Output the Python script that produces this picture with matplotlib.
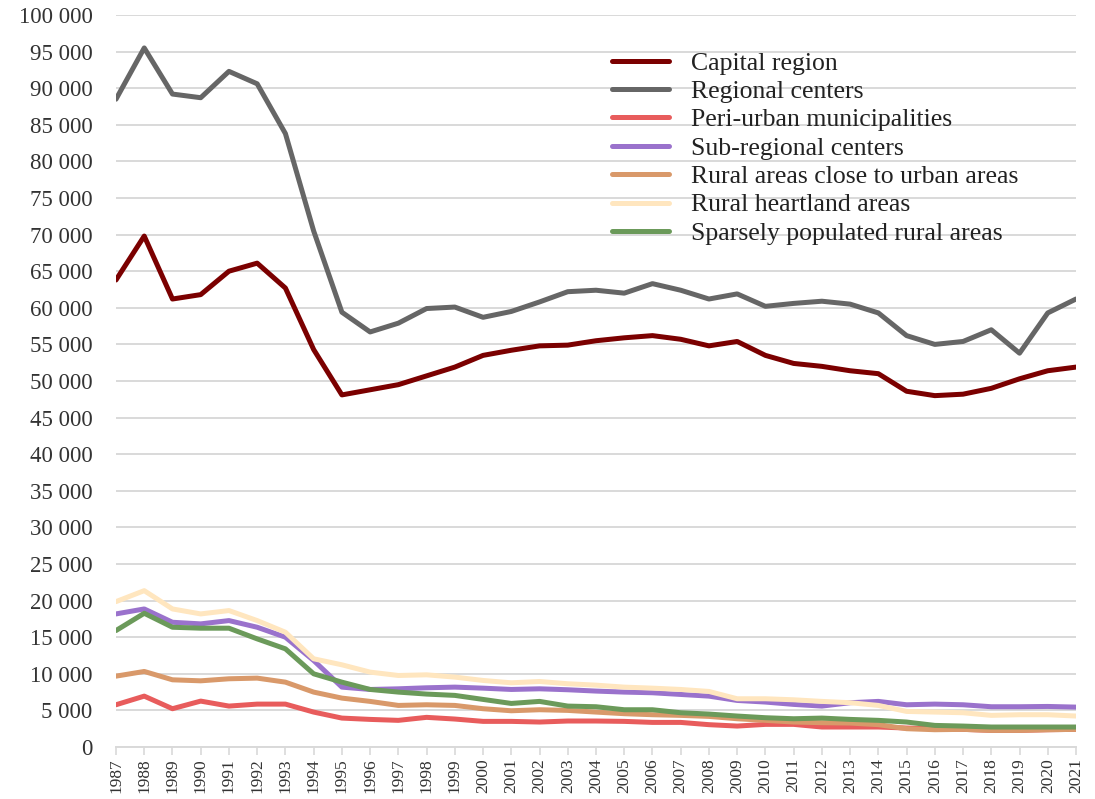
import numpy as np
from matplotlib import pyplot as plt
from matplotlib.ticker import FuncFormatter

years = list(range(1987, 2022))

capital = [63800, 69800, 61200, 61800, 65000, 66100, 62700, 54300, 48100, 48800,
           49500, 50700, 51900, 53500, 54200, 54800, 54900, 55500, 55900, 56200,
           55700, 54800, 55400, 53500, 52400, 52000, 51400, 51000, 48600, 48000,
           48200, 49000, 50300, 51400, 51900]
regional = [88500, 95500, 89200, 88700, 92300, 90600, 83800, 70500, 59400, 56700,
            57900, 59900, 60100, 58700, 59500, 60800, 62200, 62400, 62000, 63300,
            62400, 61200, 61900, 60200, 60600, 60900, 60500, 59300, 56200, 55000,
            55400, 57000, 53800, 59300, 61200]
peri_urban = [5770, 6950, 5230, 6270, 5590, 5860, 5860, 4770, 3950, 3770,
              3640, 4050, 3820, 3500, 3500, 3410, 3550, 3550, 3500, 3360,
              3360, 3050, 2860, 3090, 3090, 2730, 2730, 2730, 2590, 2500,
              2410, 2270, 2270, 2360, 2410]
sub_regional = [18180, 18860, 17040, 16820, 17270, 16360, 15000, 11820, 8180, 7860,
                7950, 8090, 8180, 8040, 7860, 7950, 7820, 7640, 7500, 7410,
                7180, 6950, 6360, 6140, 5820, 5590, 6050, 6230, 5770, 5860,
                5770, 5500, 5500, 5540, 5450]
rural_close = [9680, 10320, 9180, 9040, 9320, 9410, 8860, 7500, 6680, 6230,
               5680, 5770, 5680, 5230, 4950, 5090, 5000, 4770, 4550, 4410,
               4320, 4180, 3860, 3640, 3410, 3320, 3270, 3050, 2500, 2360,
               2410, 2270, 2270, 2360, 2410]
heartland = [19860, 21360, 18860, 18180, 18640, 17270, 15680, 12050, 11230, 10230,
             9770, 9860, 9550, 9090, 8770, 8950, 8640, 8450, 8180, 8040,
             7860, 7590, 6590, 6590, 6450, 6230, 6050, 5680, 4860, 4770,
             4680, 4320, 4410, 4410, 4230]
sparse = [15910, 18270, 16360, 16230, 16230, 14770, 13410, 10000, 8860, 7860,
          7500, 7230, 7050, 6500, 5950, 6230, 5590, 5500, 5090, 5090,
          4680, 4500, 4230, 4000, 3860, 3950, 3770, 3640, 3410, 2950,
          2860, 2730, 2730, 2730, 2730]

series = [
    ('Capital region', capital, '#7b0000'),
    ('Regional centers', regional, '#666666'),
    ('Peri-urban municipalities', peri_urban, '#e85c5c'),
    ('Sub-regional centers', sub_regional, '#9a72cc'),
    ('Rural areas close to urban areas', rural_close, '#d9996a'),
    ('Rural heartland areas', heartland, '#ffe6bf'),
    ('Sparsely populated rural areas', sparse, '#6b9a5a'),
]

plt.rcParams['font.family'] = ['Liberation Serif', 'DejaVu Serif']

fig = plt.figure(figsize=(10.95, 7.99), dpi=100)
ax = fig.add_axes([116/1095, 1 - 747/799, 960/1095, 732/799])

for name, vals, col in series:
    ax.plot(years, vals, color=col, lw=3.6, label=name, solid_capstyle='round')

ax.set_xlim(1987, 2021)
ax.set_ylim(0, 100000)
ax.set_yticks(np.arange(0, 100001, 5000))
ax.yaxis.set_major_formatter(FuncFormatter(lambda v, p: f'{int(v):,}'.replace(',', ' ')))
ax.set_xticks(years)
ax.set_xticklabels([str(y) for y in years], rotation=90, fontsize=12.5, color='#333333')
ax.tick_params(axis='y', length=0, labelsize=16.5, labelcolor='#333333', pad=17)
ax.tick_params(axis='x', length=6, width=1.2, color='#d9d9d9', pad=2)

ax.grid(axis='y', color='#d9d9d9', lw=1.4)
ax.set_axisbelow(True)
for s in ['top', 'right', 'left']:
    ax.spines[s].set_visible(False)
ax.spines['bottom'].set_color('#d9d9d9')
ax.spines['bottom'].set_linewidth(1.4)

leg = ax.legend(loc='upper left', bbox_to_anchor=(0.517, 0.95), frameon=False,
                borderaxespad=0, borderpad=0,
                fontsize=18.5, handlelength=2.2, labelspacing=0.21, handletextpad=0.86)
for t in leg.get_texts():
    t.set_color('#222222')

fig.savefig('out.png', dpi=100)
